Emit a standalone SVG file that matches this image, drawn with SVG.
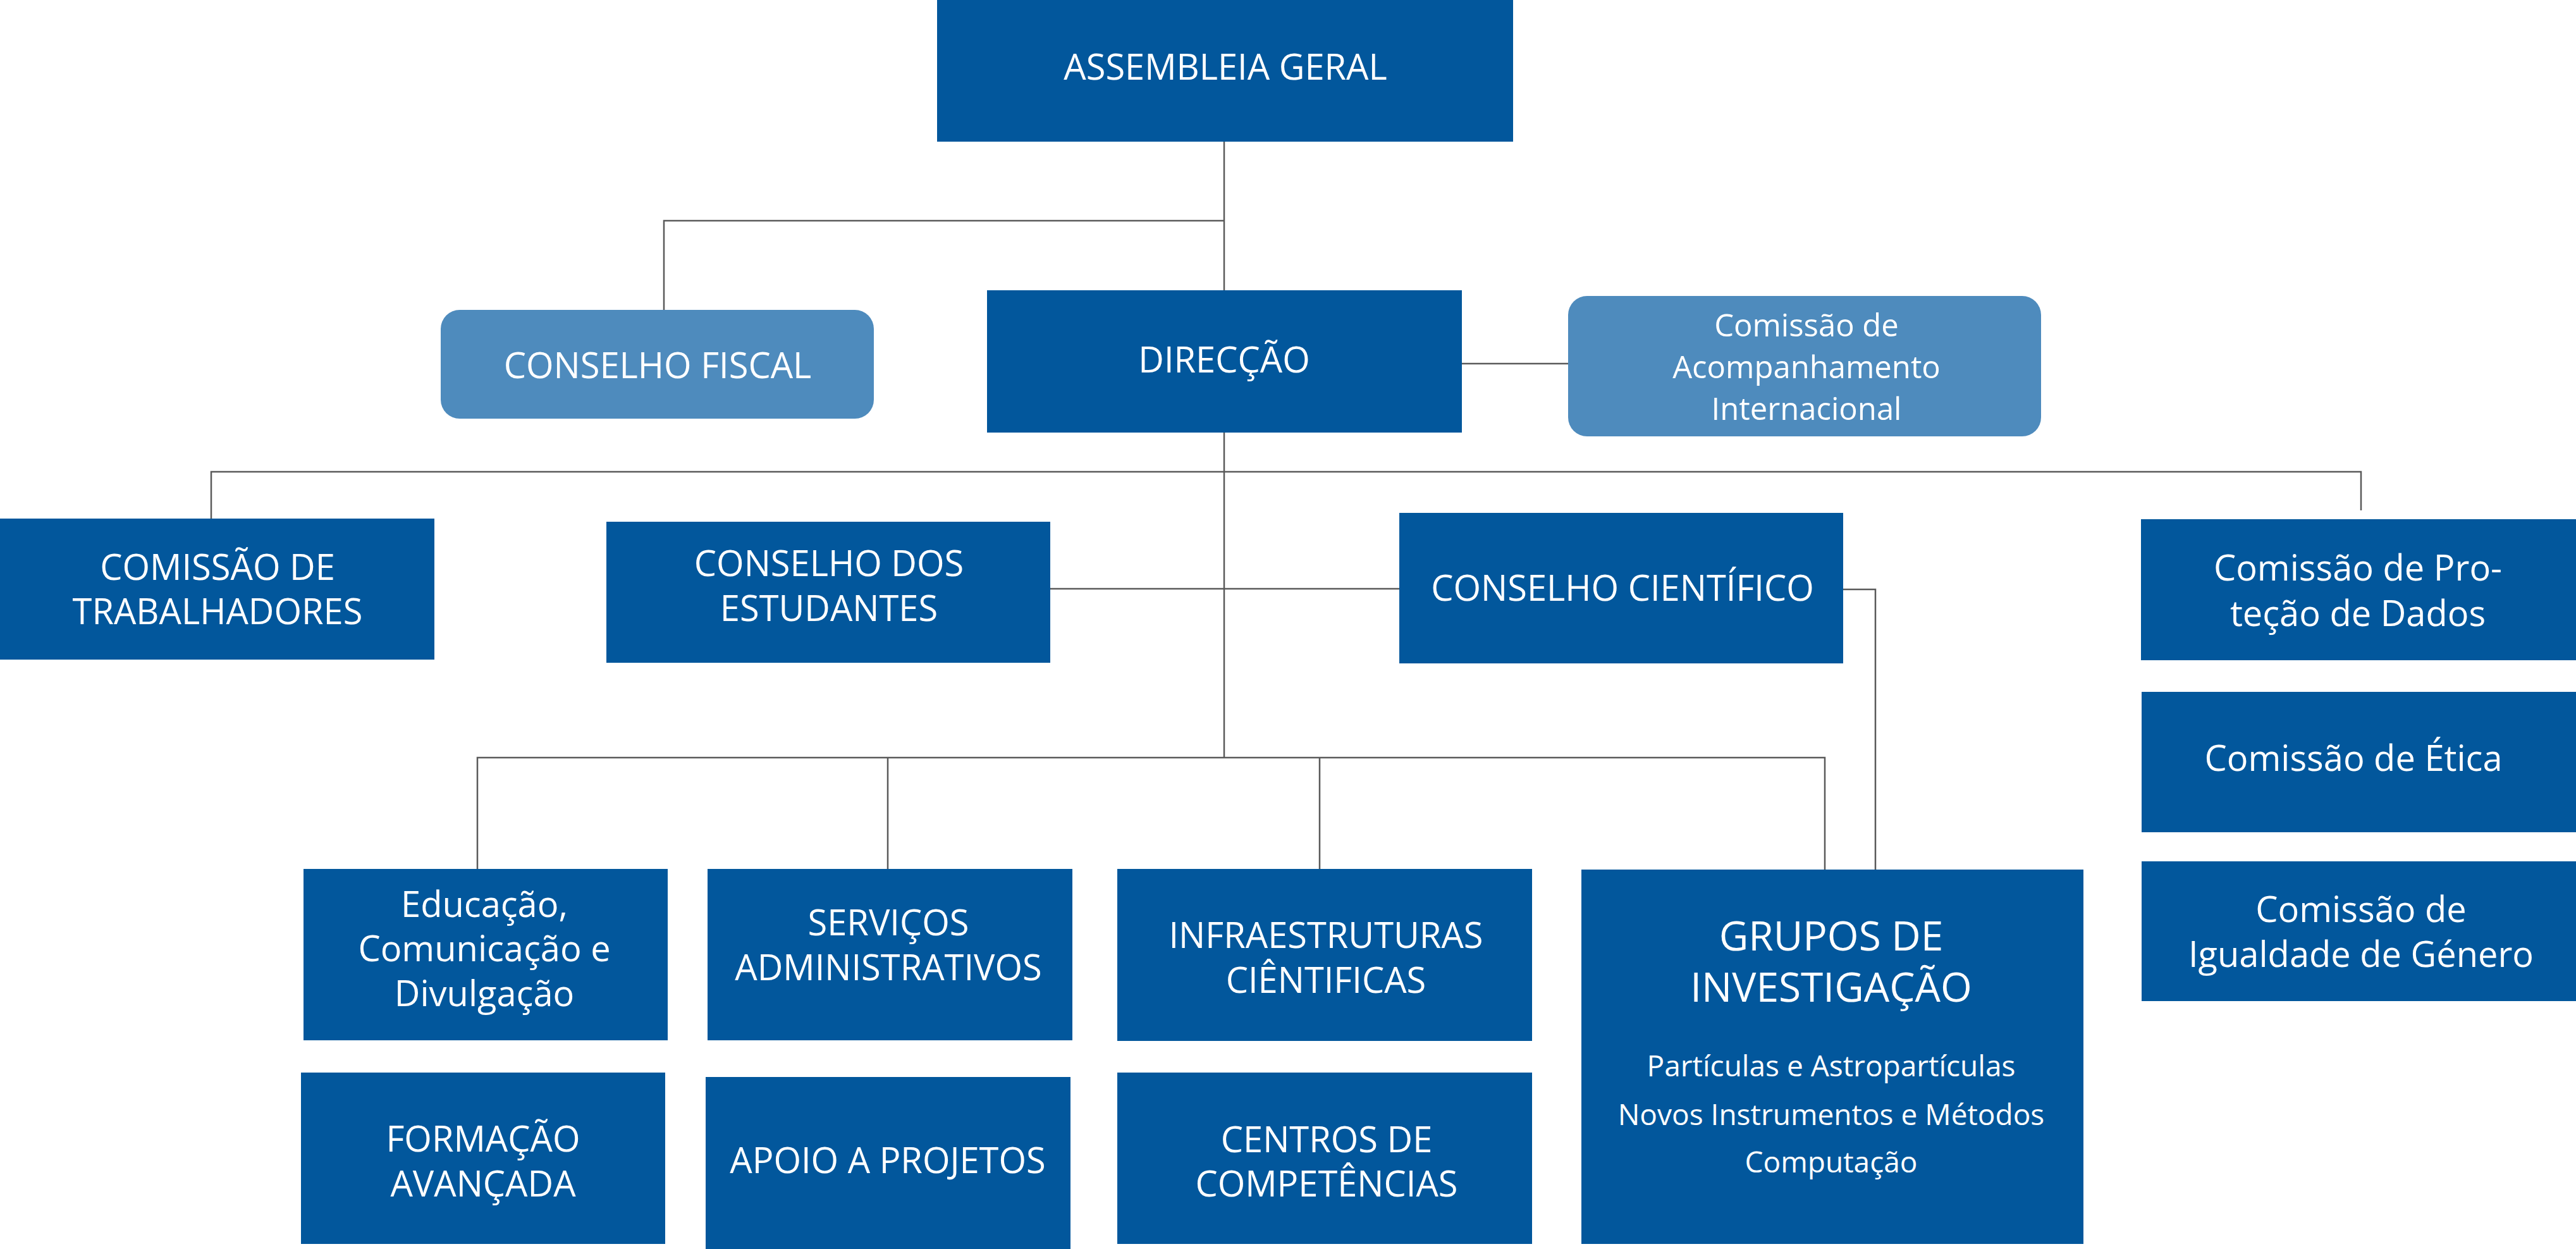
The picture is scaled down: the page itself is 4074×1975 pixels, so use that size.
<svg xmlns="http://www.w3.org/2000/svg" width="4074" height="1975" viewBox="0 0 4074 1975">
<style>
.dk{fill:#02579C}
.lt{fill:#4E8BBD}
.t{font-family:"Open Sans","Noto Sans","Liberation Sans",sans-serif;font-size:56px;fill:#FFFFFF;text-anchor:middle;font-weight:500}
.big{font-size:64px}
.sm{font-size:46px}
.md{font-size:49px}
.c{fill:none;stroke:#5A5A5A;stroke-width:2.5}
</style>
<rect width="4074" height="1975" fill="#FFFFFF"/>
<g id="connectors">
<path class="c" d="M1936 224 V459"/>
<path class="c" d="M1936 349 H1050 V490"/>
<path class="c" d="M2312 575 H2480"/>
<path class="c" d="M1936 684 V1198"/>
<path class="c" d="M334 820 V746 H3734 V807"/>
<path class="c" d="M1661 931 H2213"/>
<path class="c" d="M2915 932 H2966 V1375"/>
<path class="c" d="M755 1374 V1198 H2886 V1375"/>
<path class="c" d="M1404 1198 V1374"/>
<path class="c" d="M2087 1198 V1374"/>
</g>
<g id="assembleia">
<rect class="dk" x="1482" y="0" width="911" height="224"/>
<text class="t" x="1938" y="126">ASSEMBLEIA GERAL</text>
</g>
<g id="conselho-fiscal">
<rect class="lt" x="697" y="490" width="685" height="172" rx="30"/>
<text class="t" x="1040" y="598">CONSELHO FISCAL</text>
</g>
<g id="direccao">
<rect class="dk" x="1561" y="459" width="751" height="225"/>
<text class="t" x="1936" y="589">DIRECÇÃO</text>
</g>
<g id="comissao-acompanhamento">
<rect class="lt" x="2480" y="468" width="748" height="222" rx="30"/>
<text class="t md" x="2857" y="532">Comissão de</text>
<text class="t md" x="2857" y="598">Acompanhamento</text>
<text class="t md" x="2857" y="664">Internacional</text>
</g>
<g id="comissao-trabalhadores">
<rect class="dk" x="0" y="820" width="687" height="223"/>
<text class="t" x="344" y="917">COMISSÃO DE</text>
<text class="t" x="344" y="987">TRABALHADORES</text>
</g>
<g id="conselho-estudantes">
<rect class="dk" x="959" y="825" width="702" height="223"/>
<text class="t" x="1311" y="911">CONSELHO DOS</text>
<text class="t" x="1311" y="982">ESTUDANTES</text>
</g>
<g id="conselho-cientifico">
<rect class="dk" x="2213" y="811" width="702" height="238"/>
<text class="t" x="2566" y="950">CONSELHO CIENTÍFICO</text>
</g>
<g id="comissao-protecao">
<rect class="dk" x="3386" y="821" width="688" height="223"/>
<text class="t" x="3729" y="918">Comissão de Pro-</text>
<text class="t" x="3729" y="990">teção de Dados</text>
</g>
<g id="comissao-etica">
<rect class="dk" x="3387" y="1094" width="687" height="222"/>
<text class="t" x="3722" y="1219">Comissão de Ética</text>
</g>
<g id="comissao-igualdade">
<rect class="dk" x="3387" y="1362" width="687" height="221"/>
<text class="t" x="3734" y="1458">Comissão de</text>
<text class="t" x="3734" y="1529">Igualdade de Género</text>
</g>
<g id="educacao">
<rect class="dk" x="480" y="1374" width="576" height="271"/>
<text class="t" x="766" y="1450">Educação,</text>
<text class="t" x="766" y="1520">Comunicação e</text>
<text class="t" x="766" y="1591">Divulgação</text>
</g>
<g id="servicos">
<rect class="dk" x="1119" y="1374" width="577" height="271"/>
<text class="t" x="1405" y="1479">SERVIÇOS</text>
<text class="t" x="1405" y="1550">ADMINISTRATIVOS</text>
</g>
<g id="infraestruturas">
<rect class="dk" x="1767" y="1374" width="656" height="272"/>
<text class="t" x="2097" y="1499">INFRAESTRUTURAS</text>
<text class="t" x="2097" y="1570">CIÊNTIFICAS</text>
</g>
<g id="grupos">
<rect class="dk" x="2501" y="1375" width="794" height="592"/>
<text class="t big" x="2896" y="1503">GRUPOS DE</text>
<text class="t big" x="2896" y="1584">INVESTIGAÇÃO</text>
<text class="t sm" x="2896" y="1702">Partículas e Astropartículas</text>
<text class="t sm" x="2896" y="1779">Novos Instrumentos e Métodos</text>
<text class="t sm" x="2896" y="1854">Computação</text>
</g>
<g id="formacao">
<rect class="dk" x="476" y="1696" width="576" height="271"/>
<text class="t" x="764" y="1821">FORMAÇÃO</text>
<text class="t" x="764" y="1892">AVANÇADA</text>
</g>
<g id="apoio">
<rect class="dk" x="1116" y="1703" width="577" height="272"/>
<text class="t" x="1404" y="1855">APOIO A PROJETOS</text>
</g>
<g id="centros">
<rect class="dk" x="1767" y="1696" width="656" height="271"/>
<text class="t" x="2098" y="1822">CENTROS DE</text>
<text class="t" x="2098" y="1892">COMPETÊNCIAS</text>
</g>
</svg>
